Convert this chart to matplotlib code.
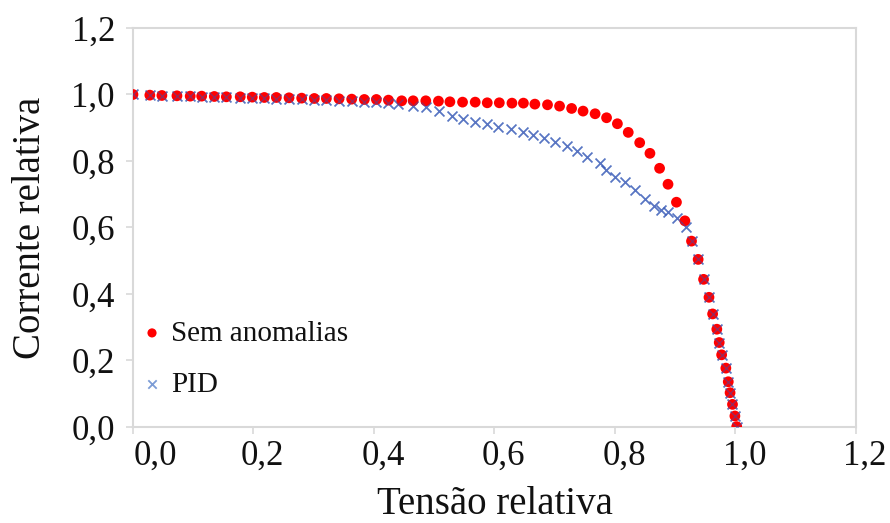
import matplotlib
matplotlib.use('Agg')
import matplotlib.pyplot as plt
import matplotlib.transforms as mtransforms

# relative voltage / current (I-V curves)
x_sem = [0.0, 0.028, 0.048, 0.073, 0.095, 0.114, 0.135, 0.155, 0.178, 0.198,
         0.218, 0.238, 0.259, 0.280, 0.301, 0.321, 0.342, 0.363, 0.384, 0.404,
         0.424, 0.446, 0.465, 0.486, 0.507, 0.526, 0.547, 0.568, 0.588, 0.608,
         0.629, 0.648, 0.667, 0.688, 0.708, 0.728, 0.747, 0.767, 0.786, 0.804,
         0.822, 0.841, 0.858, 0.874, 0.888, 0.902, 0.916, 0.927, 0.938, 0.947,
         0.956, 0.962, 0.969, 0.973, 0.977, 0.984, 0.988, 0.991, 0.995, 0.999,
         1.002]
y_sem = [1.000, 0.998, 0.997, 0.996, 0.995, 0.995, 0.994, 0.993, 0.993, 0.992,
         0.991, 0.991, 0.990, 0.989, 0.988, 0.988, 0.987, 0.986, 0.985, 0.985,
         0.983, 0.981, 0.981, 0.981, 0.980, 0.978, 0.977, 0.977, 0.975, 0.975,
         0.974, 0.974, 0.971, 0.969, 0.965, 0.958, 0.950, 0.942, 0.930, 0.912,
         0.886, 0.855, 0.823, 0.778, 0.730, 0.676, 0.620, 0.559, 0.504, 0.444,
         0.390, 0.340, 0.294, 0.254, 0.217, 0.177, 0.136, 0.103, 0.068, 0.033,
         0.001]

x_pid = [0.0, 0.028, 0.048, 0.073, 0.095, 0.114, 0.135, 0.155, 0.178, 0.198,
         0.218, 0.238, 0.259, 0.280, 0.301, 0.321, 0.342, 0.363, 0.384, 0.404,
         0.424, 0.440, 0.465, 0.487, 0.508, 0.529, 0.548, 0.568, 0.587, 0.606,
         0.627, 0.647, 0.664, 0.682, 0.700, 0.720, 0.737, 0.754, 0.775, 0.785,
         0.800, 0.817, 0.833, 0.850, 0.864, 0.877, 0.888, 0.903, 0.918, 0.927,
         0.938, 0.947, 0.956, 0.962, 0.969, 0.973, 0.977, 0.984, 0.988, 0.991,
         0.995, 0.999, 1.002]
y_pid = [1.000, 0.998, 0.996, 0.995, 0.994, 0.993, 0.992, 0.991, 0.990, 0.989,
         0.988, 0.987, 0.986, 0.985, 0.984, 0.983, 0.981, 0.980, 0.978, 0.976,
         0.974, 0.970, 0.966, 0.962, 0.951, 0.936, 0.925, 0.916, 0.910, 0.903,
         0.895, 0.888, 0.878, 0.870, 0.858, 0.845, 0.830, 0.813, 0.793, 0.773,
         0.753, 0.738, 0.714, 0.686, 0.665, 0.652, 0.647, 0.628, 0.600, 0.559,
         0.504, 0.444, 0.390, 0.340, 0.294, 0.254, 0.217, 0.177, 0.136, 0.103,
         0.068, 0.033, 0.001]

ticks = [0.0, 0.2, 0.4, 0.6, 0.8, 1.0, 1.2]
tick_labels = ['0,0', '0,2', '0,4', '0,6', '0,8', '1,0', '1,2']

plt.rcParams['font.family'] = ['Liberation Serif', 'DejaVu Serif']

fig = plt.figure(figsize=(8.9, 5.23), dpi=100)
ax = fig.add_axes([0.1494, 0.1836, 0.8124, 0.7629])

ax.scatter(x_pid, y_pid, marker='x', s=50, color='#4472c4', alpha=0.7,
           linewidths=1.3, label='PID', zorder=2)
ax.scatter(x_sem, y_sem, marker='o', s=60, color='#ff0000', edgecolors='none',
           label='Sem anomalias', zorder=3)
# pid crosses sit on top of the red dots in the merged part
ax.scatter(x_pid, y_pid, marker='x', s=50, color='#3a4fb0', alpha=0.5,
           linewidths=1.0, zorder=4)

ax.set_xlim(0, 1.2)
ax.set_ylim(0, 1.2)
ax.set_xticks(ticks)
ax.set_xticklabels(tick_labels)
ax.set_yticks(ticks)
ax.set_yticklabels(tick_labels)

for s in ax.spines.values():
    s.set_color('#d9d9d9')
    s.set_linewidth(1.5)
ax.tick_params(axis='both', direction='out', length=5, width=1.2,
               color='#d9d9d9', labelsize=25, labelcolor='#111111')
ax.tick_params(axis='y', pad=8)
ax.tick_params(axis='x', pad=4)

# excel-like label offsets on the x axis
for i, lbl in enumerate(ax.get_xticklabels()):
    dx = 22 if i == 0 else 9
    lbl.set_transform(lbl.get_transform() +
                      mtransforms.ScaledTranslation(dx / 100, 0, fig.dpi_scale_trans))

ax.set_xlabel('Tensão relativa', fontsize=28, color='#111111', labelpad=10)
ax.set_ylabel('Corrente relativa', fontsize=28, color='#111111', labelpad=16)

handles, labels = ax.get_legend_handles_labels()
leg = ax.legend(handles[::-1], labels[::-1], loc='lower left',
                bbox_to_anchor=(-0.014, 0.022), frameon=False, fontsize=21,
                handlelength=0.6, handletextpad=0.35, labelspacing=0.85,
                borderaxespad=0.3, markerscale=0.85)
for t in leg.get_texts():
    t.set_color('#111111')

fig.savefig('out.png', dpi=100)
